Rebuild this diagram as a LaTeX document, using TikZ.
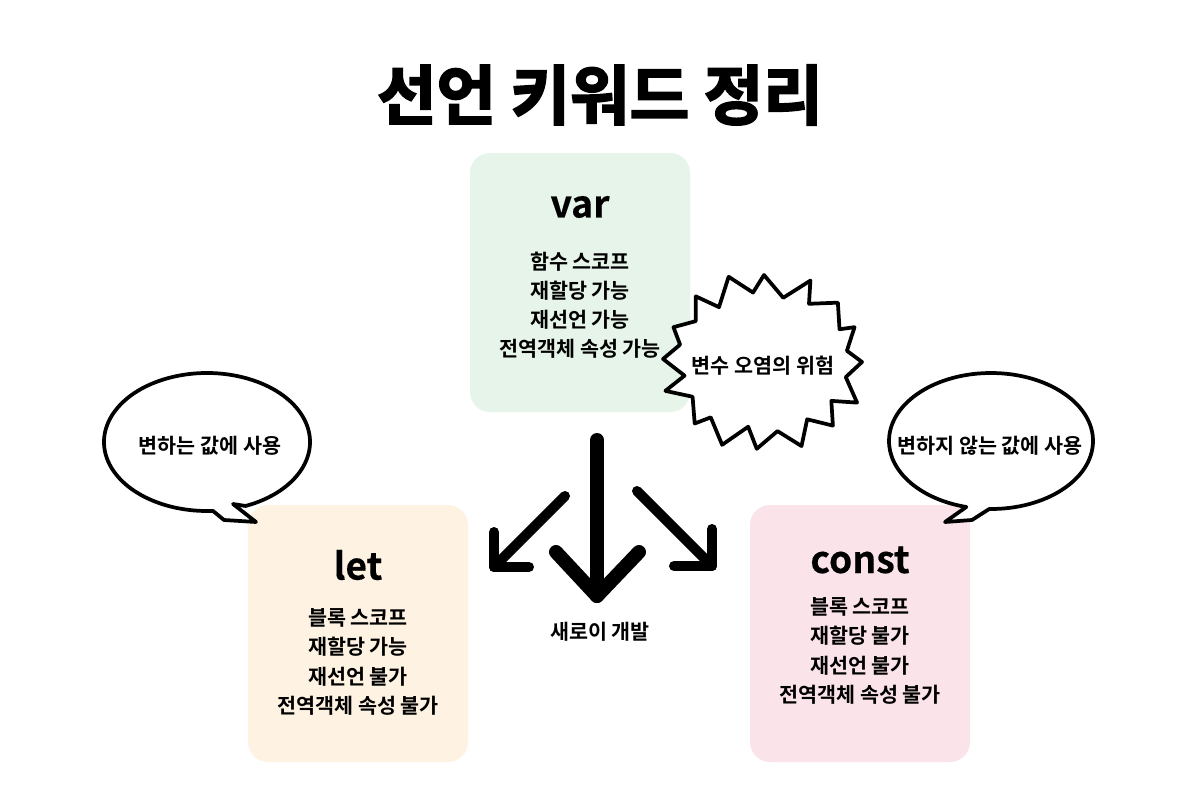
\documentclass[tikz,border=0pt]{standalone}
\usepackage{fontspec}
\newfontfamily\krb{Noto Sans CJK KR Bold}
\newfontfamily\krk{Noto Sans CJK KR Bold}[FakeBold=0.4]
\newfontfamily\krt{Noto Sans CJK KR Bold}[FakeBold=3]
\usetikzlibrary{calc}
\definecolor{vargreen}{HTML}{E6F4E9}
\definecolor{letcream}{HTML}{FEF3E2}
\definecolor{constpink}{HTML}{FBE3EA}
\tikzset{
  card/.style={rounded corners=15pt, inner sep=0pt},
  keyword/.style={font=\krk\fontsize{28pt}{30pt}\selectfont, inner sep=0pt},
  lines/.style={font=\krb\fontsize{15.5pt}{21.9pt}\selectfont, align=center, inner sep=0pt},
  bubbletext/.style={font=\krb\fontsize{15.5pt}{18pt}\selectfont, inner sep=0pt},
  outline/.style={draw=black, line width=2.8pt, line join=round, line cap=round, fill=white},
  bigarrow/.style={line width=10.5pt, line cap=round, line join=round},
  sidearrow/.style={line width=7.5pt, line cap=round, line join=round},
}
\begin{document}
\begin{tikzpicture}[x=0.75pt, y=-0.75pt]
\useasboundingbox[fill=white] (0,0) rectangle (1200,799);

% title
\node[font=\krt\fontsize{48.5pt}{56pt}\selectfont, inner sep=0pt] (title) at (600,95) {선언 키워드 정리};

% cards
\fill[vargreen, card] (470,153) rectangle (690,412);
\fill[letcream, card] (248,505) rectangle (468,762);
\fill[constpink, card] (750,505) rectangle (970,762);

\node[keyword] (var) at (580,207) {var};
\node[lines] (varlines) at (580,305) {함수 스코프\\재할당 가능\\재선언 가능\\전역객체 속성 가능};

\node[keyword] (let) at (358,565) {let};
\node[lines] (letlines) at (358,662) {블록 스코프\\재할당 가능\\재선언 불가\\전역객체 속성 불가};

\node[keyword] (const) at (860,560) {const};
\node[lines] (constlines) at (860,651) {블록 스코프\\재할당 불가\\재선언 불가\\전역객체 속성 불가};

% burst
\coordinate (burst) at (764,362);
\draw[outline] ($(burst)+(0:98 and 87)$)
  \foreach \i in {1,...,31} { -- ($(burst)+({\i*11.25+2*mod(\i,3)}:{81+17*mod(\i+1,2)+3*mod(\i,3)} and {64+23*mod(\i+1,2)+2*mod(\i,4)})$) } -- cycle;
\node[bubbletext] (danger) at (763,366) {변수 오염의 위험};

% left speech bubble
\coordinate (lb) at (207,442);
\draw[outline] ($(lb)+(68:103 and 69)$) arc[start angle=68, end angle=-273.3, x radius=103, y radius=69]
  -- (224,520) -- (256,522) -- (233,504) -- cycle;
\node[bubbletext] (lbtext) at (210,446) {변하는 값에 사용};

% right speech bubble
\coordinate (rb) at (991,441);
\draw[outline] ($(rb)+(91:102 and 68)$) arc[start angle=91, end angle=-256, x radius=102, y radius=68]
  -- (945,522) -- (972,520) -- cycle;
\node[bubbletext] (rbtext) at (990,446) {변하지 않는 값에 사용};

% arrows
\coordinate (c0) at (597,440);
\coordinate (c1) at (597,596);
\coordinate (c1a) at (556,552);
\coordinate (c1b) at (639,552);
\draw[bigarrow] (c0) -- (c1);
\draw[bigarrow] (c1a) -- (c1) -- (c1b);

\coordinate (l0) at (565,496);
\coordinate (l1) at (494,567);
\coordinate (l1a) at (494,532);
\coordinate (l1b) at (529,567);
\draw[sidearrow] (l0) -- (l1);
\draw[sidearrow] (l1a) -- (l1) -- (l1b);

\coordinate (r0) at (637,491);
\coordinate (r1) at (712,566);
\coordinate (r1a) at (712,529);
\coordinate (r1b) at (674,566);
\draw[sidearrow] (r0) -- (r1);
\draw[sidearrow] (r1a) -- (r1) -- (r1b);

\node[bubbletext] (newdev) at (600,632) {새로이 개발};
\end{tikzpicture}
\end{document}
